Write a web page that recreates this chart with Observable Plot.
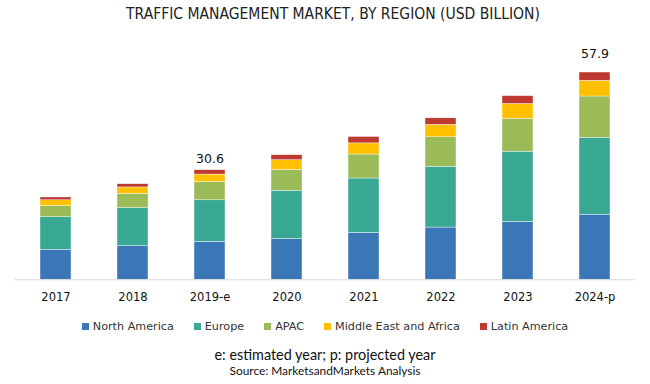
<!DOCTYPE html>
<html><head><meta charset="utf-8">
<script src="https://cdn.jsdelivr.net/npm/d3@7"></script>
<script src="https://cdn.jsdelivr.net/npm/@observablehq/plot@0.6"></script>
<style>
body{margin:0;background:#fff;}
#wrap{position:relative;width:650px;height:384px;overflow:hidden;background:#fff;}
#title{position:absolute;left:8px;top:0;width:650px;height:28px;line-height:28px;text-align:center;
  font-family:"Liberation Sans Narrow","DejaVu Sans Condensed","Liberation Sans",sans-serif;font-stretch:condensed;font-size:15.5px;color:#222;}
#chart{position:absolute;left:0;top:28px;}
#legend{position:absolute;left:0;top:318px;width:650px;height:16px;display:flex;justify-content:center;align-items:center;gap:20px;
  font-family:"DejaVu Sans",sans-serif;font-size:11.2px;color:#333;}
#legend .item{display:flex;align-items:center;white-space:nowrap;}
#legend .sw{width:7px;height:7px;margin-right:4px;display:inline-block;}
#note{position:absolute;left:0;top:345px;width:650px;height:20px;line-height:20px;text-align:center;font-family:Lato,"Open Sans",sans-serif;font-size:14.4px;color:#111;}
#source{position:absolute;left:0;top:363px;width:650px;height:16px;line-height:16px;text-align:center;font-family:Lato,"Open Sans",sans-serif;font-size:11.9px;color:#111;}
</style></head><body><div id="wrap">
<div id="title"></div>
<div id="chart"></div>
<div id="legend"></div>
<div id="note"></div>
<div id="source"></div>
</div>
<script>
const titleText = "TRAFFIC MANAGEMENT MARKET, BY REGION (USD BILLION)";
const noteText = "e: estimated year; p: projected year";
const sourceText = "Source: MarketsandMarkets Analysis";
const years = ["2017","2018","2019-e","2020","2021","2022","2023","2024-p"];
const regions = ["North America","Europe","APAC","Middle East and Africa","Latin America"];
const northAmerica = [8.4, 9.4, 10.6, 11.4, 13.1, 14.6, 16.2, 18.2];
const europe       = [9.1, 10.6, 11.6, 13.5, 15.2, 17.0, 19.6, 21.5];
const apac         = [3.1, 4.0, 5.1, 5.8, 6.7, 8.2, 9.2, 11.5];
const mea          = [1.6, 1.8, 2.1, 2.7, 3.1, 3.5, 4.1, 4.4];
const latinAmerica = [0.8, 0.9, 1.2, 1.4, 1.8, 1.8, 2.2, 2.3];
const labelYears = ["2019-e","2024-p"];
const labelValues = [30.6, 57.9];
const regionColors = ["#3b77b6","#3aa994","#9bbb59","#ffc000","#be3a31"];

const series = [northAmerica, europe, apac, mea, latinAmerica];
const data = [];
years.forEach((yr, i) => regions.forEach((r, j) => data.push({year: yr, region: r, value: series[j][i]})));
const labels = labelYears.map((yr, i) => ({year: yr, value: labelValues[i]}));

document.getElementById("title").textContent = titleText;
document.getElementById("note").textContent = noteText;
document.getElementById("source").textContent = sourceText;
const leg = document.getElementById("legend");
regions.forEach((r, j) => {
  const it = document.createElement("span"); it.className = "item";
  const sw = document.createElement("span"); sw.className = "sw"; sw.style.background = regionColors[j];
  it.appendChild(sw); it.appendChild(document.createTextNode(r)); leg.appendChild(it);
});

const chart = Plot.plot({
  width: 650, height: 282,
  marginLeft: 14, marginRight: 15, marginTop: 18.6, marginBottom: 30.7,
  style: {fontFamily: "DejaVu Sans, sans-serif", fontSize: "11.5px", color: "#111", background: "#fff", overflow: "visible"},
  x: {domain: years, paddingInner: 0.6, paddingOuter: 0.3, label: null},
  y: {domain: [0, 65], axis: null},
  color: {domain: regions, range: regionColors},
  marks: [
    Plot.barY(data, {x: "year", y: "value", fill: "region", stroke: "#fff", strokeWidth: 0.4}),
    Plot.ruleY([0], {stroke: "#d9d9d9", strokeWidth: 1}),
    Plot.axisX({tickSize: 0, tickPadding: 13, label: null, fontSize: 11.5}),
    Plot.text(labels.filter(d => d.year === "2019-e"), {x: "year", y: "value", text: d => d.value.toFixed(1), dy: -11, fontSize: 12.5, fill: "#111"}),
    Plot.text(labels.filter(d => d.year === "2024-p"), {x: "year", y: "value", text: d => d.value.toFixed(1), dy: -19, fontSize: 12.5, fill: "#111"})
  ]
});
document.getElementById("chart").appendChild(chart);
</script>
</body></html>
